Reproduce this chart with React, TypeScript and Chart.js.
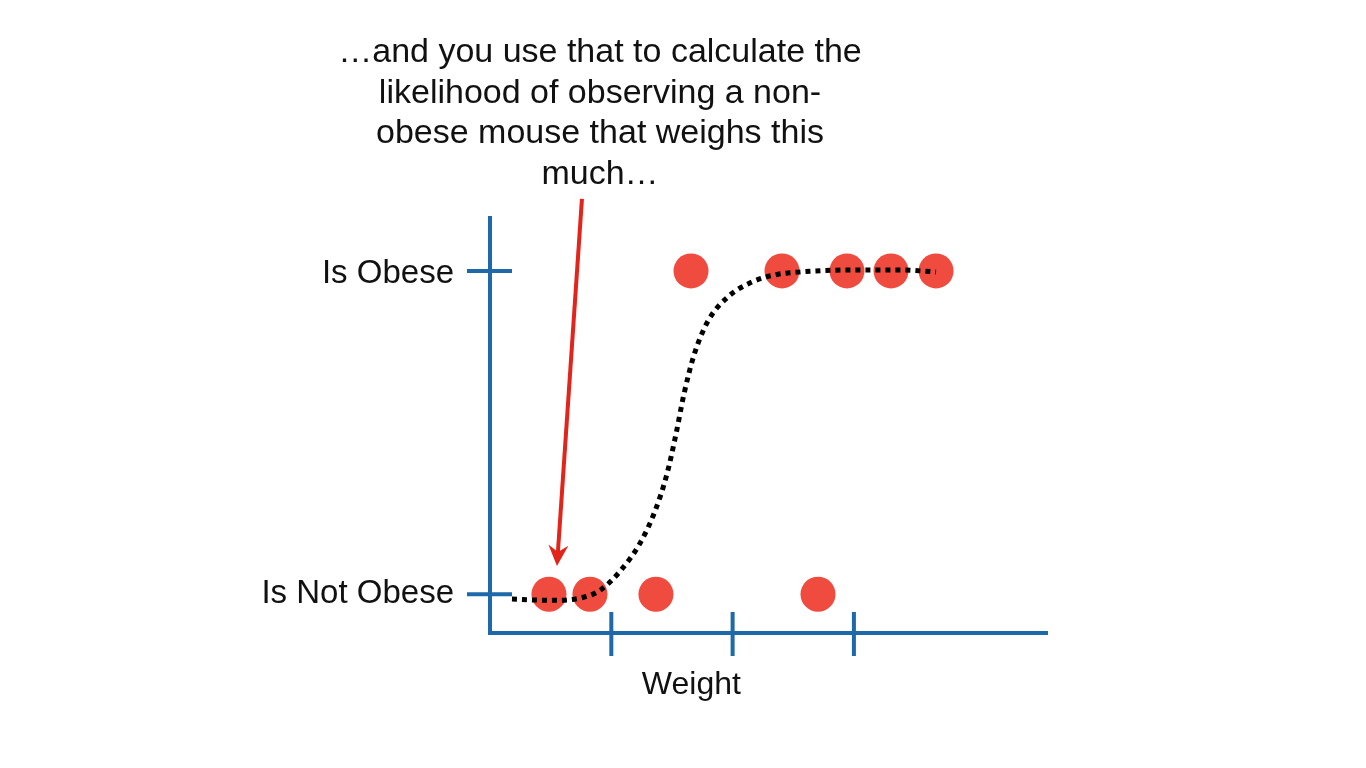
import React, { useEffect, useRef } from "react";
import { Chart, registerables } from "chart.js";

Chart.register(...registerables);

// ---- data ----
const titleLines = [
  "…and you use that to calculate the",
  "likelihood of observing a non-",
  "obese mouse that weighs this",
  "much…",
];
const yLabels = ["Is Not Obese", "Is Obese"];
const yValues = [0, 1];
const xTicks = [1, 2, 3];
const xTitle = "Weight";

const obeseWeights = [1.657, 2.407, 2.943, 3.306, 3.677];
const notObeseWeights = [0.486, 0.824, 1.368, 2.704];

const curveWeights = [0.181, 0.486, 0.742, 0.907, 1.072, 1.237, 1.36, 1.459, 1.533, 1.599, 1.682, 1.797, 1.962, 2.16, 2.35, 2.556, 2.968, 3.38, 3.677];
const curveProb = [-0.015, -0.019, -0.012, 0.012, 0.071, 0.158, 0.257, 0.372, 0.495, 0.619, 0.74, 0.845, 0.92, 0.966, 0.988, 0.997, 1.003, 1.003, 0.997];

const arrowTail = { x: 0.758, y: 1.223 };
const arrowTip = { x: 0.552, y: 0.087 };

const FONT = '"Liberation Sans", Arial, Helvetica, sans-serif';
const AXIS = "#1d69a9";
const DOT = "#ef4b3f";
const ARROW = "#e2241b";

const decorPlugin = {
  id: "decor",
  beforeDatasetsDraw(chart: any) {
    const ctx = chart.ctx;
    const xs = chart.scales.x;
    const ys = chart.scales.y;
    const { left, right, top, bottom } = chart.chartArea;
    ctx.save();
    ctx.strokeStyle = AXIS;
    ctx.lineWidth = 4;
    ctx.lineCap = "butt";
    ctx.lineJoin = "miter";
    ctx.beginPath();
    ctx.moveTo(left, top);
    ctx.lineTo(left, bottom);
    ctx.lineTo(right, bottom);
    ctx.stroke();
    // y ticks crossing the axis
    yValues.forEach((v) => {
      const py = ys.getPixelForValue(v);
      ctx.beginPath();
      ctx.moveTo(left - 23, py);
      ctx.lineTo(left + 22, py);
      ctx.stroke();
    });
    xTicks.forEach((v) => {
      const px = xs.getPixelForValue(v);
      ctx.beginPath();
      ctx.moveTo(px, bottom - 21);
      ctx.lineTo(px, bottom + 23);
      ctx.stroke();
    });
    // labels
    ctx.fillStyle = "#111";
    ctx.font = `33px ${FONT}`;
    ctx.textAlign = "right";
    ctx.textBaseline = "alphabetic";
    yValues.forEach((v, i) => {
      const py = ys.getPixelForValue(v);
      ctx.fillText(yLabels[i], left - 36, py + (i === 0 ? 9 : 12));
    });
    ctx.font = `32px ${FONT}`;
    ctx.textAlign = "center";
    ctx.fillText(xTitle, xs.getPixelForValue(1.66), bottom + 61);
    ctx.restore();
  },
  afterDraw(chart: any) {
    const ctx = chart.ctx;
    const xs = chart.scales.x;
    const ys = chart.scales.y;
    ctx.save();
    // title text
    ctx.fillStyle = "#111";
    ctx.font = `34px ${FONT}`;
    ctx.textAlign = "center";
    ctx.textBaseline = "alphabetic";
    titleLines.forEach((t, i) => {
      ctx.fillText(t, 600, 62 + i * 40.7);
    });
    // arrow
    const x1 = xs.getPixelForValue(arrowTail.x);
    const y1 = ys.getPixelForValue(arrowTail.y);
    const x2 = xs.getPixelForValue(arrowTip.x);
    const y2 = ys.getPixelForValue(arrowTip.y);
    const ang = Math.atan2(y2 - y1, x2 - x1);
    const headLen = 21;
    const headHalf = 10;
    const notch = 14;
    const bx = x2 - headLen * Math.cos(ang);
    const by = y2 - headLen * Math.sin(ang);
    const nx = x2 - notch * Math.cos(ang);
    const ny = y2 - notch * Math.sin(ang);
    ctx.strokeStyle = ARROW;
    ctx.lineWidth = 4;
    ctx.beginPath();
    ctx.moveTo(x1, y1);
    ctx.lineTo(nx, ny);
    ctx.stroke();
    ctx.fillStyle = ARROW;
    ctx.beginPath();
    ctx.moveTo(x2, y2);
    ctx.lineTo(bx + headHalf * Math.sin(ang), by - headHalf * Math.cos(ang));
    ctx.lineTo(nx, ny);
    ctx.lineTo(bx - headHalf * Math.sin(ang), by + headHalf * Math.cos(ang));
    ctx.closePath();
    ctx.fill();
    ctx.restore();
  },
};

export default function App() {
  const ref = useRef<HTMLCanvasElement | null>(null);
  useEffect(() => {
    if (!ref.current) return;
    const chart = new Chart(ref.current, {
      type: "scatter",
      data: {
        datasets: [
          {
            type: "line",
            label: "curve",
            data: curveWeights.map((x, i) => ({ x, y: curveProb[i] })),
            borderColor: "#000",
            borderWidth: 5,
            borderDash: [5, 5],
            borderCapStyle: "butt",
            pointRadius: 0,
            cubicInterpolationMode: "monotone",
            fill: false,
            order: 0,
            clip: false,
          } as any,
          {
            label: "Is Obese",
            data: obeseWeights.map((x) => ({ x, y: 1 })),
            backgroundColor: DOT,
            borderWidth: 0,
            pointRadius: 17.5,
            order: 1,
            clip: false,
          } as any,
          {
            label: "Is Not Obese",
            data: notObeseWeights.map((x) => ({ x, y: 0 })),
            backgroundColor: DOT,
            borderWidth: 0,
            pointRadius: 17.5,
            order: 1,
            clip: false,
          } as any,
        ],
      },
      options: {
        animation: false,
        responsive: false,
        layout: { padding: { left: 490, right: 318, top: 216, bottom: 135 } },
        plugins: { legend: { display: false }, tooltip: { enabled: false }, title: { display: false } },
        scales: {
          x: { type: "linear", min: 0, max: 4.6, display: false },
          y: { type: "linear", min: -0.12, max: 1.17, display: false },
        },
        events: [],
      },
      plugins: [decorPlugin],
    });
    return () => chart.destroy();
  }, []);
  return (
    <div style={{ position: "absolute", left: 0, top: 0, width: 1366, height: 768, background: "#fff" }}>
      <canvas ref={ref} width={1366} height={768} style={{ display: "block" }} />
    </div>
  );
}
